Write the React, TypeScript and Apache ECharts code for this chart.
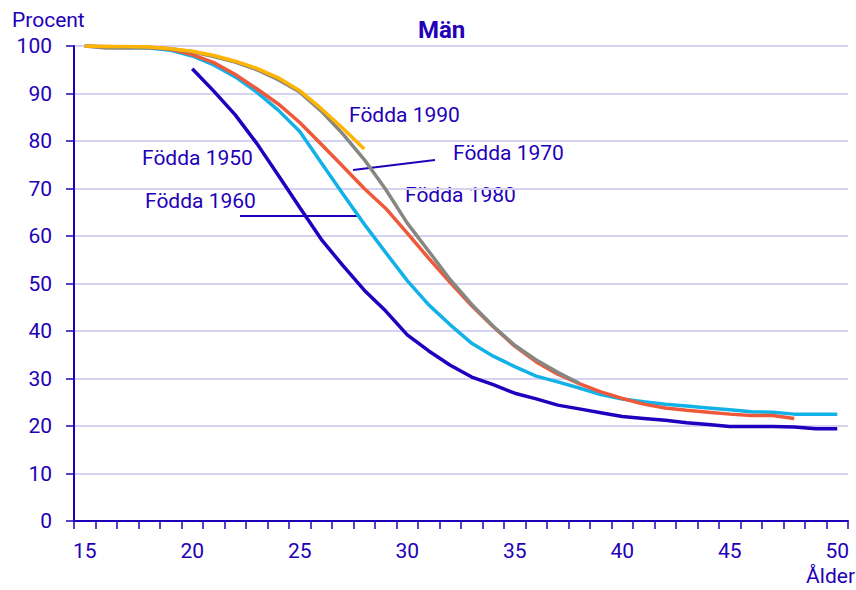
import React, { useEffect, useRef } from "react";
import * as echarts from "echarts";

const ages = ["15","16","17","18","19","20","21","22","23","24","25","26","27","28","29","30","31","32","33","34","35","36","37","38","39","40","41","42","43","44","45","46","47","48","49","50"];

const born1950 = [null,null,null,null,null,95.2,90.5,85.5,79.5,72.8,66.0,59.3,53.8,48.6,44.2,39.2,35.8,32.8,30.3,28.7,26.9,25.7,24.4,23.6,22.8,22.0,21.6,21.2,20.7,20.3,19.9,19.9,19.9,19.8,19.4,19.4];
const born1960 = [100,99.8,99.7,99.6,99.1,97.9,96.0,93.5,90.3,86.5,82.0,75.4,68.9,62.5,56.5,50.6,45.5,41.3,37.4,34.7,32.5,30.5,29.3,28.0,26.6,25.7,25.1,24.6,24.2,23.8,23.4,23.0,22.9,22.5,22.5,22.5];
const born1970 = [100,99.9,99.8,99.7,99.3,98.2,96.5,94.0,91.0,87.8,83.9,79.3,74.7,70.0,65.8,60.6,55.3,50.2,45.3,40.9,36.8,33.5,30.9,28.9,27.2,25.8,24.6,23.8,23.3,22.9,22.5,22.2,22.2,21.6,null,null];
const born1980 = [100,99.6,99.6,99.7,99.4,98.8,97.8,96.6,95.0,92.9,90.3,86.3,81.5,76.1,69.8,62.7,56.8,50.8,45.6,41.0,37.0,33.9,31.3,29.0,null,null,null,null,null,null,null,null,null,null,null,null];
const born1990 = [100,99.9,99.9,99.8,99.4,98.9,98.0,96.8,95.3,93.3,90.6,86.8,82.7,78.3,null,null,null,null,null,null,null,null,null,null,null,null,null,null,null,null,null,null,null,null,null,null];

const seriesNames = ["Födda 1950", "Födda 1960", "Födda 1970", "Födda 1980", "Födda 1990"];
const seriesColors = ["#1e00be", "#12b2e8", "#f0583a", "#878782", "#ffb400"];
const seriesData = [born1950, born1960, born1970, born1980, born1990];

const TEXT = "#2200b8";
const FONT = "Roboto";

export default function App() {
  const ref = useRef<HTMLDivElement>(null);
  useEffect(() => {
    document.body.style.margin = "0";
    if (!ref.current) return;
    const chart = echarts.init(ref.current, null, { renderer: "svg" });
    const txt = (text: string, x: number, y: number) => ({
      type: "text",
      x,
      y,
      style: { text, fill: TEXT, fontSize: 21, fontFamily: FONT, verticalAlign: "middle", align: "left" },
    });
    chart.setOption({
      animation: false,
      backgroundColor: "#ffffff",
      title: {
        text: "Män",
        left: 413,
        top: 13,
        textStyle: { color: TEXT, fontSize: 24, fontWeight: "bold", fontFamily: FONT },
      },
      grid: { left: 74, right: 8, top: 46, bottom: 69 },
      xAxis: {
        type: "category",
        data: ages,
        boundaryGap: true,
        axisLine: { lineStyle: { color: TEXT, width: 2 } },
        axisTick: { show: true, interval: 0, length: 8, lineStyle: { color: TEXT, width: 1.5 } },
        axisLabel: { interval: 4, color: TEXT, fontSize: 21, fontFamily: FONT, margin: 19 },
        splitLine: { show: false },
      },
      yAxis: {
        type: "value",
        min: 0,
        max: 100,
        interval: 10,
        axisLine: { show: true, lineStyle: { color: TEXT, width: 2 } },
        axisTick: { show: true, length: 8, lineStyle: { color: TEXT, width: 1.5 } },
        axisLabel: { color: TEXT, fontSize: 21, fontFamily: FONT, margin: 22 },
        splitLine: { show: true, lineStyle: { color: "#d4d4f2", width: 2 } },
      },
      series: seriesData.map((d, i) => ({
        name: seriesNames[i],
        type: "line",
        data: d,
        symbol: "none",
        connectNulls: false,
        lineStyle: { color: seriesColors[i], width: 3.5 },
        z: 2 + i,
      })),
      graphic: [
        { type: "text", x: 12, y: 20, style: { text: "Procent", fill: TEXT, fontSize: 21, fontFamily: FONT, verticalAlign: "middle", align: "left" } },
        { type: "text", x: 855, y: 576, style: { text: "Ålder", fill: TEXT, fontSize: 21, fontFamily: FONT, verticalAlign: "middle", align: "right" } },
        txt("Födda 1990", 349, 115),
        txt("Födda 1970", 453, 153),
        txt("Födda 1980", 405, 195),
        txt("Födda 1950", 142, 158),
        txt("Födda 1960", 145, 201),
        { type: "line", shape: { x1: 353, y1: 170, x2: 435, y2: 160 }, style: { stroke: TEXT, lineWidth: 2 } },
        { type: "line", shape: { x1: 240, y1: 216, x2: 358, y2: 216 }, style: { stroke: TEXT, lineWidth: 2 } },
      ],
    });
    return () => chart.dispose();
  }, []);
  return <div ref={ref} style={{ width: 856, height: 590 }} />;
}
